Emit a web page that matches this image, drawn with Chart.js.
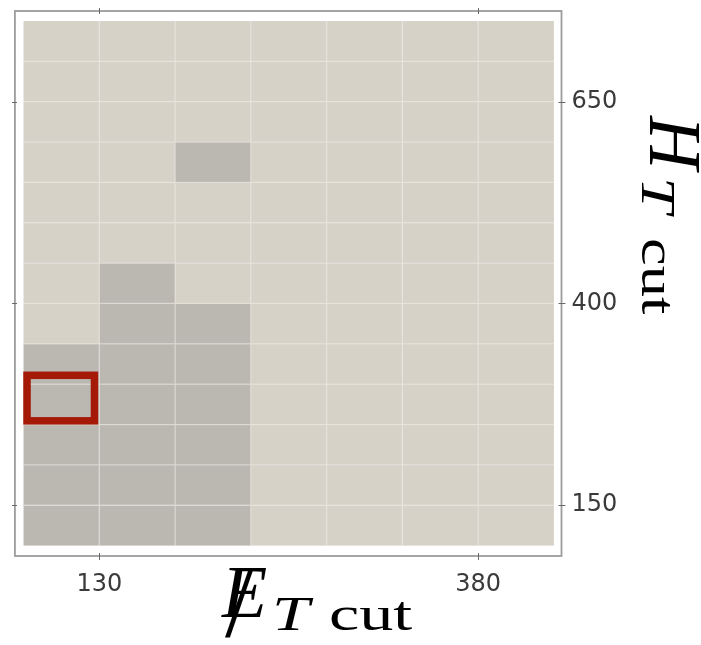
<!DOCTYPE html>
<html>
<head>
<meta charset="utf-8">
<script src="https://cdn.jsdelivr.net/npm/chart.js@4.4.0/dist/chart.umd.min.js"></script>
<style>
  html, body { margin: 0; padding: 0; background: #fff; }
  #wrap { width: 701px; height: 645px; }
</style>
</head>
<body>
<div id="wrap"><canvas id="cutScan"></canvas></div>
<script>
// cut grid: MET bin edges (x) and HT bin edges (y)
const metEdges = [80, 130, 180, 230, 280, 330, 380, 430];
const htEdges = [100, 150, 200, 250, 300, 350, 400, 450, 500, 550, 600, 650, 700, 750];
// 1 = shaded cell; rows go from the lowest HT bin upward
const rejected = [
  [1, 1, 1, 0, 0, 0, 0],
  [1, 1, 1, 0, 0, 0, 0],
  [1, 1, 1, 0, 0, 0, 0],
  [1, 1, 1, 0, 0, 0, 0],
  [1, 1, 1, 0, 0, 0, 0],
  [0, 1, 1, 0, 0, 0, 0],
  [0, 1, 0, 0, 0, 0, 0],
  [0, 0, 0, 0, 0, 0, 0],
  [0, 0, 0, 0, 0, 0, 0],
  [0, 0, 1, 0, 0, 0, 0],
  [0, 0, 0, 0, 0, 0, 0],
  [0, 0, 0, 0, 0, 0, 0],
  [0, 0, 0, 0, 0, 0, 0]
];
const metTicks = [130, 380];
const htTicks = [150, 400, 650];
// highlighted cut point (outline)
const bestCut = { met: [82.3, 126.8], ht: [254.6, 311] };
const metRange = [73.7, 435];
const htRange = [87.1, 762.4];

const cellColors = ['#d6d2c8', '#bbb7b1'];

// draws a string stretched along the current x axis
function wideText(ctx, str, x, y, sx) {
  ctx.save();
  ctx.translate(x, y);
  ctx.scale(sx, 1);
  ctx.fillText(str, 0, 0);
  ctx.restore();
}

const cutGrid = {
  id: 'cutGrid',
  beforeDatasetsDraw(chart) {
    const { ctx, chartArea: a } = chart;
    const xs = chart.scales.x, ys = chart.scales.y;
    ctx.save();
    // cells
    rejected.forEach((row, j) => {
      row.forEach((v, i) => {
        const x0 = xs.getPixelForValue(metEdges[i]);
        const x1 = xs.getPixelForValue(metEdges[i + 1]);
        const y0 = ys.getPixelForValue(htEdges[j + 1]);
        const y1 = ys.getPixelForValue(htEdges[j]);
        ctx.fillStyle = cellColors[v];
        ctx.fillRect(x0, y0, x1 - x0, y1 - y0);
      });
    });
    // faint grid lines between cells
    const gx0 = xs.getPixelForValue(metEdges[0]);
    const gx1 = xs.getPixelForValue(metEdges[metEdges.length - 1]);
    const gy0 = ys.getPixelForValue(htEdges[htEdges.length - 1]);
    const gy1 = ys.getPixelForValue(htEdges[0]);
    ctx.strokeStyle = 'rgba(236,233,228,0.55)';
    ctx.lineWidth = 1.3;
    ctx.beginPath();
    metEdges.slice(1, -1).forEach(v => {
      const p = xs.getPixelForValue(v);
      ctx.moveTo(p, gy0); ctx.lineTo(p, gy1);
    });
    htEdges.slice(1, -1).forEach(v => {
      const p = ys.getPixelForValue(v);
      ctx.moveTo(gx0, p); ctx.lineTo(gx1, p);
    });
    ctx.stroke();

    // best cut outline
    const bx0 = xs.getPixelForValue(bestCut.met[0]);
    const bx1 = xs.getPixelForValue(bestCut.met[1]);
    const by0 = ys.getPixelForValue(bestCut.ht[1]);
    const by1 = ys.getPixelForValue(bestCut.ht[0]);
    ctx.strokeStyle = '#a51907';
    ctx.lineWidth = 7.5;
    ctx.lineJoin = 'miter';
    ctx.strokeRect(bx0, by0, bx1 - bx0, by1 - by0);

    // frame
    ctx.strokeStyle = '#9c9c9c';
    ctx.lineWidth = 1.8;
    ctx.strokeRect(a.left + 0.9, a.top, a.right - a.left - 0.9, a.bottom - a.top);

    // small tick marks on all four sides
    ctx.strokeStyle = '#6a6a6a';
    ctx.lineWidth = 1;
    ctx.beginPath();
    metTicks.forEach(v => {
      const p = Math.round(xs.getPixelForValue(v)) + 0.5;
      ctx.moveTo(p, a.bottom - 3); ctx.lineTo(p, a.bottom + 4);
      ctx.moveTo(p, a.top - 3); ctx.lineTo(p, a.top + 3);
    });
    htTicks.forEach(v => {
      const p = Math.round(ys.getPixelForValue(v)) + 0.5;
      ctx.moveTo(a.right - 3, p); ctx.lineTo(a.right + 4, p);
      ctx.moveTo(a.left - 2, p); ctx.lineTo(a.left + 3, p);
    });
    ctx.stroke();
    ctx.restore();
  },
  afterDraw(chart) {
    const { ctx } = chart;
    ctx.save();
    ctx.fillStyle = '#000';
    ctx.textAlign = 'left';
    ctx.textBaseline = 'alphabetic';

    // x title: missing E_T cut
    ctx.font = 'italic 74px "Liberation Serif"';
    ctx.fillText('E', 222, 617);
    ctx.font = '100px "Liberation Serif"';
    ctx.fillText('/', 225, 636);
    ctx.font = 'italic 48px "Liberation Serif"';
    wideText(ctx, 'T', 272, 630, 1.4);
    ctx.font = '48px "Liberation Serif"';
    wideText(ctx, 'cut', 329, 630, 1.42);

    // y title: H_T cut, rotated
    ctx.translate(650, 0);
    ctx.rotate(Math.PI / 2);
    ctx.font = 'italic 74px "Liberation Serif"';
    ctx.fillText('H', 116, 0);
    ctx.font = 'italic 48px "Liberation Serif"';
    wideText(ctx, 'T', 177, 8, 1.35);
    ctx.font = '48px "Liberation Serif"';
    wideText(ctx, 'cut', 238, 8, 1.3);
    ctx.restore();
  }
};

const tickFont = { family: 'DejaVu Sans', size: 24 };

function noPad(s) {
  s.paddingTop = 0; s.paddingBottom = 0; s.paddingLeft = 0; s.paddingRight = 0;
}

new Chart(document.getElementById('cutScan'), {
  type: 'scatter',
  data: { datasets: [] },
  options: {
    responsive: true,
    maintainAspectRatio: false,
    animation: false,
    layout: { padding: { left: 14, top: 11, right: 0, bottom: 0 } },
    plugins: { legend: { display: false }, tooltip: { enabled: false } },
    scales: {
      x: {
        type: 'linear',
        position: 'bottom',
        min: metRange[0],
        max: metRange[1],
        grid: { display: false, drawTicks: false },
        border: { display: false },
        afterBuildTicks: s => { s.ticks = metTicks.map(v => ({ value: v })); },
        afterFit: s => { s.height = 89; noPad(s); },
        ticks: { color: '#3a3a3a', font: tickFont, padding: 14, maxRotation: 0 }
      },
      y: {
        type: 'linear',
        position: 'right',
        min: htRange[0],
        max: htRange[1],
        grid: { display: false, drawTicks: false },
        border: { display: false },
        afterBuildTicks: s => { s.ticks = htTicks.map(v => ({ value: v })); },
        afterFit: s => { s.width = 139.5; noPad(s); },
        ticks: { color: '#3a3a3a', font: tickFont, padding: 10 }
      }
    }
  },
  plugins: [cutGrid]
});
</script>
</body>
</html>
